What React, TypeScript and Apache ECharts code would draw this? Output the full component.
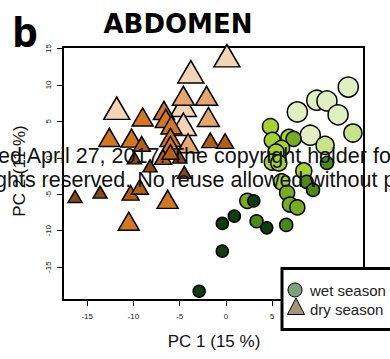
import React, { useEffect, useRef } from "react";
import * as echarts from "echarts";

// dry season samples (triangles): PC1, PC2, colour/size level (0 = lightest)
const dryX = [-4.6, 0.1, -3.8, -11.8, -4.6, -2.1, -1.9, -4.6, -4.1, -9.0, -6.7, -6.5, -5.9, -12.6, -10.2, -9.1, -6.0, -6.0, -6.8, -1.7, -0.1, -16.3, -13.6, -10.3, -9.3, -6.3, -10.5, -8.2, -4.5, -9.9, -5.0, -6.0];
const dryY = [7.2, 14.0, 11.8, 6.8, 8.5, 8.5, 5.6, 4.6, 2.0, 5.6, 6.5, 5.4, 4.5, 2.8, 2.7, 1.9, 2.8, 1.7, 0.1, 2.4, 2.3, -5.3, -4.7, -4.8, -4.0, -5.7, -8.7, -1.1, -2.0, 0.0, 0.1, 0.8];
const dryLevel = [0, 0, 0, 0, 1, 1, 1, 0, 1, 2, 2, 2, 2, 2, 2, 3, 2, 2, 3, 3, 3, 4, 4, 3, 3, 2, 2, 4, 4, 4, 4, 3];

// wet season samples (circles)
const wetX = [13.2, 9.8, 10.9, 7.7, 12.1, 9.1, 13.7, 10.7, 4.8, 5.0, 6.8, 7.3, 6.0, 5.4, 5.0, 5.7, 10.9, 8.4, 6.0, 8.7, 9.4, 6.6, 6.9, 7.7, 2.3, 3.0, 0.9, -0.4, 3.3, 4.4, 6.5, -0.4, -2.9];
const wetY = [9.7, 7.9, 7.8, 6.3, 5.9, 3.1, 3.4, 1.7, 4.3, 2.4, 2.8, 2.6, 1.3, 0.8, -0.6, -0.7, -0.7, -1.8, -3.3, -3.3, -4.4, -4.8, -6.4, -6.8, -5.9, -5.9, -8.0, -9.0, -8.7, -9.6, -9.2, -12.8, -18.3];
const wetLevel = [0, 0, 0, 0, 0, 0, 1, 1, 2, 2, 2, 3, 2, 2, 2, 2, 4, 2, 2, 4, 4, 3, 3, 3, 3, 5, 5, 5, 4, 5, 4, 5, 5];

const xTicks = [-15, -10, -5, 0, 5, 10];
const xTickLabels = [-15, -10, -5, 0, 5];
const yTicks = [-15, -10, -5, 0, 5, 10, 15];

const title = "ABDOMEN";
const panel = "b";
const xName = "PC 1 (15 %)";
const yName = "PC 2 (11 %)";
const legendNames = ["wet season", "dry season"];
const watermark = [
  "ed April 27, 2017. The copyright holder for this preprint",
  "ghts reserved. No reuse allowed without permission.",
];

const dryColors = ["#f3d4b5", "#e6a66c", "#d3781f", "#b5600f", "#8a4812"];
const drySizes = [26, 22, 21, 17, 14];
const wetColors = ["#e2efc0", "#c9e486", "#a6d22e", "#75ad1e", "#4b8a14", "#0f3d10"];
const wetSizes = [20, 18, 16, 15, 13, 12];

export default function App() {
  const ref = useRef<HTMLDivElement>(null);
  useEffect(() => {
    if (!ref.current) return;
    const chart = echarts.init(ref.current, undefined, { renderer: "svg" });
    const dryData = dryX.map((x, i) => [x, dryY[i], dryLevel[i]]);
    const wetData = wetX.map((x, i) => [x, wetY[i], wetLevel[i]]);
    const tickFont = { fontSize: 8, fontFamily: "Liberation Sans", color: "#222" };
    chart.setOption({
      animation: false,
      grid: {
        left: 63,
        right: 26,
        top: 47,
        bottom: 59,
        show: true,
        borderColor: "#000",
        borderWidth: 2,
        backgroundColor: "transparent",
      },
      xAxis: {
        type: "value",
        position: "bottom",
        min: -17.6,
        max: 14.9,
        splitLine: { show: false },
        axisLine: { show: false, onZero: false },
        axisTick: { show: true, length: 6, customValues: xTicks, lineStyle: { color: "#000", width: 1 } },
        axisLabel: { ...tickFont, margin: 12, customValues: xTickLabels },
      },
      yAxis: {
        type: "value",
        position: "left",
        min: -19.5,
        max: 15.2,
        splitLine: { show: false },
        axisLine: { show: false, onZero: false },
        axisTick: { show: true, length: 6, customValues: yTicks, lineStyle: { color: "#000", width: 1 } },
        axisLabel: { ...tickFont, margin: 11, rotate: 90, customValues: yTicks },
      },
      series: [
        {
          type: "scatter",
          name: legendNames[1],
          symbol: "triangle",
          data: dryData,
          symbolSize: (v: number[]) => [drySizes[v[2]], drySizes[v[2]] * 0.86],
          itemStyle: {
            color: (p: any) => dryColors[p.value[2]],
            borderColor: "#000",
            borderWidth: 1.5,
            opacity: 1,
          },
          z: 3,
        },
        {
          type: "scatter",
          name: legendNames[0],
          symbol: "circle",
          data: wetData,
          symbolSize: (v: number[]) => wetSizes[v[2]],
          itemStyle: {
            color: (p: any) => wetColors[p.value[2]],
            borderColor: "#000",
            borderWidth: 1.5,
            opacity: 1,
          },
          z: 3,
        },
      ],
      graphic: [
        {
          type: "text",
          left: 12,
          top: 10,
          z: 10,
          style: { text: panel, font: "bold 41px 'Open Sans'", fill: "#000" },
        },
        {
          type: "text",
          x: 178,
          y: 24,
          z: 10,
          style: {
            text: title,
            font: "bold 26px 'DejaVu Sans'",
            fill: "#000",
            textAlign: "center",
            textVerticalAlign: "middle",
          },
        },
        {
          type: "text",
          x: 214,
          y: 341,
          z: 10,
          style: {
            text: xName,
            font: "17px 'Liberation Sans'",
            fill: "#111",
            textAlign: "center",
            textVerticalAlign: "middle",
          },
        },
        {
          type: "text",
          x: 19,
          y: 171,
          rotation: Math.PI / 2,
          z: 10,
          style: {
            text: yName,
            font: "17px 'Liberation Sans'",
            fill: "#111",
            textAlign: "center",
            textVerticalAlign: "middle",
          },
        },
        {
          type: "rect",
          z: 20,
          shape: { x: 282, y: 268.5, width: 130, height: 61 },
          style: { fill: "#fff", stroke: "#000", lineWidth: 3 },
        },
        {
          type: "circle",
          z: 21,
          shape: { cx: 295, cy: 290, r: 7 },
          style: { fill: "#7f9f7f", stroke: "#000", lineWidth: 1 },
        },
        {
          type: "polygon",
          z: 21,
          shape: { points: [[296, 298], [287.5, 314.5], [304.5, 314.5]] },
          style: { fill: "#a89279", stroke: "#000", lineWidth: 1 },
        },
        {
          type: "text",
          x: 310,
          y: 290,
          z: 21,
          style: { text: legendNames[0], font: "15px 'Liberation Sans'", fill: "#222", textVerticalAlign: "middle" },
        },
        {
          type: "text",
          x: 310,
          y: 309,
          z: 21,
          style: { text: legendNames[1], font: "15px 'Liberation Sans'", fill: "#222", textVerticalAlign: "middle" },
        },
        {
          type: "text",
          x: -2,
          y: 156,
          z: 30,
          style: { text: watermark[0], font: "21.5px 'Liberation Sans'", fill: "#111", textVerticalAlign: "middle" },
        },
        {
          type: "text",
          x: -5,
          y: 180,
          z: 30,
          style: { text: watermark[1], font: "21.5px 'Liberation Sans'", fill: "#111", textVerticalAlign: "middle" },
        },
      ],
    });
    return () => chart.dispose();
  }, []);
  return <div ref={ref} style={{ width: 390, height: 359, position: "absolute", left: 0, top: 0 }} />;
}
